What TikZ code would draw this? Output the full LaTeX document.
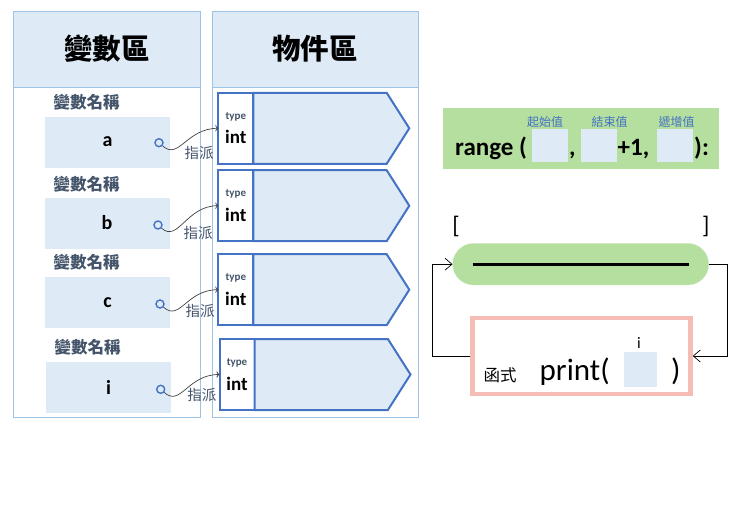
\documentclass[tikz,border=0pt]{standalone}
\usepackage{fontspec}
\setmainfont{Carlito}
\newfontfamily\cjk{Noto Sans CJK TC}
\usetikzlibrary{positioning,shapes.symbols,arrows.meta}
\definecolor{panelLine}{HTML}{9DC3E6}
\definecolor{paleBlue}{HTML}{DEEBF7}
\definecolor{slateText}{HTML}{44546A}
\definecolor{boxBlue}{HTML}{4472C4}
\definecolor{rangeGreen}{HTML}{B4DF9F}
\definecolor{pillEdge}{HTML}{D3EAC6}
\definecolor{printPink}{HTML}{F5BDB6}
\definecolor{wireGray}{HTML}{404040}
\begin{document}
\begin{tikzpicture}[x=1pt, y=-1pt,
    panel/.style={draw=panelLine, line width=0.8pt},
    header/.style={panel, fill=paleBlue},
    title/.style={font=\cjk\bfseries\fontsize{28.5}{30}\selectfont},
    namelabel/.style={font=\cjk\bfseries\fontsize{16.5}{18}\selectfont, text=slateText},
    varbox/.style={fill=paleBlue, minimum width=125pt, minimum height=51pt, font=\bfseries\fontsize{20}{22}\selectfont},
    handle/.style={circle, draw=boxBlue, line width=1.4pt, inner sep=0pt, minimum size=8pt},
    typebox/.style={draw=boxBlue, line width=2pt, fill=white, outer sep=0pt, minimum width=35pt, minimum height=71pt},
    valbox/.style={signal, signal to=east, signal pointer angle=115, draw=boxBlue, line width=2pt, fill=paleBlue, outer sep=0pt, minimum width=156pt, minimum height=71pt},
    typetag/.style={font=\bfseries\fontsize{11}{12}\selectfont, text=slateText, inner sep=0pt},
    typename/.style={font=\bfseries\fontsize{19}{20}\selectfont, inner sep=0pt},
    assign/.style={wireGray, line width=0.7pt, -{To[length=3pt]}},
    assignlabel/.style={font=\cjk\fontsize{14.5}{15}\selectfont, text=slateText},
    rangebar/.style={fill=rangeGreen, minimum width=276pt, minimum height=61pt},
    rangetext/.style={font=\bfseries\fontsize{25}{27}\selectfont, inner sep=0pt},
    hint/.style={font=\cjk\fontsize{12}{13}\selectfont, text=boxBlue},
    blank/.style={fill=paleBlue, minimum width=36pt, minimum height=33pt},
    bracket/.style={font=\fontsize{24}{26}\selectfont},
    pill/.style={fill=rangeGreen, draw=pillEdge, rounded corners=20.8pt, minimum width=256pt, minimum height=41.6pt},
    printbox/.style={draw=printPink, line width=4.5pt, fill=white, minimum width=218pt, minimum height=76pt},
    printtext/.style={font=\fontsize{31}{33}\selectfont, inner sep=0pt},
    loopline/.style={line width=0.7pt, -{Straight Barb[length=7pt, width=12pt]}}]
  \useasboundingbox (0,0) rectangle (741,522);
  % PANELS
  \draw[panel] (13,11) rectangle (200,417);
  \draw[header] (13,11) rectangle (200,87);
  \draw[panel] (212,11) rectangle (418,417);
  \draw[header] (212,11) rectangle (418,87);
  \node[title] (varTitle) at (107,49) {變數區};
  \node[title] (objTitle) at (315,49) {物件區};
  % VARIABLES
  \node[namelabel] (labelA) at (86.5,102) {變數名稱};
  \node[namelabel] (labelB) at (86.5,184) {變數名稱};
  \node[namelabel] (labelC) at (86.5,262.5) {變數名稱};
  \node[namelabel] (labelI) at (87.5,347.5) {變數名稱};
  \node[varbox] (boxA) at (107.5,142) {a};
  \node[varbox] (boxB) at (107,223) {b};
  \node[varbox] (boxC) at (107.5,302.5) {c};
  \node[varbox] (boxI) at (108.5,387) {i};
  \node[handle] (dotA) at (159,142.7) {};
  \node[handle] (dotB) at (158,225) {};
  \node[handle] (dotC) at (160,304) {};
  \node[handle] (dotI) at (160.7,389.3) {};
  % OBJECTS
  \node[typebox] (typeA) at (235.8,128.3) {};
  \node[typebox] (typeB) at (235.8,205.7) {};
  \node[typebox] (typeC) at (235.8,289.7) {};
  \node[typebox] (typeI) at (237,374.5) {};
  \node[valbox, right=0pt of typeA] (valA) {};
  \node[valbox, right=0pt of typeB] (valB) {};
  \node[valbox, right=0pt of typeC] (valC) {};
  \node[valbox, right=0pt of typeI] (valI) {};
  \node[typetag] (tagA) at ([yshift=11.6pt]typeA.center) {type};
  \node[typetag] (tagB) at ([yshift=11.6pt]typeB.center) {type};
  \node[typetag] (tagC) at ([yshift=11.6pt]typeC.center) {type};
  \node[typetag] (tagI) at ([yshift=11.6pt]typeI.center) {type};
  \node[typename] (intA) at ([yshift=-9pt]typeA.center) {int};
  \node[typename] (intB) at ([yshift=-9pt]typeB.center) {int};
  \node[typename] (intC) at ([yshift=-9pt]typeC.center) {int};
  \node[typename] (intI) at ([yshift=-9pt]typeI.center) {int};
  % ASSIGNMENTS
  \draw[assign] (dotA) .. controls +(20,18) and +(-32,0) .. (typeA.west);
  \draw[assign] (dotB) .. controls +(20,18) and +(-32,0) .. (typeB.west);
  \draw[assign] (dotC) .. controls +(20,18) and +(-32,0) .. (typeC.west);
  \draw[assign] (dotI) .. controls +(20,18) and +(-32,0) .. (typeI.west);
  \node[assignlabel] (assignA) at (199,153) {指派};
  \node[assignlabel] (assignB) at (198,232.7) {指派};
  \node[assignlabel] (assignC) at (200,311) {指派};
  \node[assignlabel] (assignI) at (201.8,395) {指派};
  % RANGE
  \node[rangebar] (rangeBar) at (581,138.3) {};
  \node[hint] (startHint) at (545,122) {起始值};
  \node[hint] (endHint) at (609.5,122) {結束值};
  \node[hint] (stepHint) at (676.5,122) {遞增值};
  \node[rangetext, anchor=base west] (rangeWord) at (455,155) {range (};
  \node[blank] (startBlank) at (550,145.7) {};
  \node[rangetext, anchor=base west] (rangeComma) at (569,155) {,};
  \node[blank] (endBlank) at (599.3,145.7) {};
  \node[rangetext, anchor=base west] (plusOne) at (617.5,155) {+1,};
  \node[blank] (stepBlank) at (675.2,145.7) {};
  \node[rangetext, anchor=base west] (rangeClose) at (694,155) {):};
  % LIST
  \node[bracket] (openBracket) at (456,226.5) {[};
  \node[bracket] (closeBracket) at (705.7,226.5) {]};
  \node[pill] (listPill) at (580.7,264.2) {};
  \draw[line width=3pt] ([xshift=20pt]listPill.west) -- ([xshift=-20pt]listPill.east);
  % PRINT
  \node[printbox] (printBox) at (581.5,356) {};
  \node[font=\cjk\fontsize{16.5}{17}\selectfont] (funcLabel) at (500,375) {函式};
  \node[printtext, anchor=base west] (printWord) at (539.5,380) {print(};
  \node[blank, minimum width=32.7pt, minimum height=34.7pt] (argBlank) at (640.3,369.3) {};
  \node[font=\fontsize{16}{18}\selectfont] (argName) at (639,343) {i};
  \node[printtext, anchor=base west] (printClose) at (671,380) {)};
  % LOOP
  \draw[loopline] (listPill.east) -- ++(18,0) |- (printBox.east);
  \draw[loopline] (printBox.west) -- ++(-38,0) |- (listPill.west);
\end{tikzpicture}
\end{document}
